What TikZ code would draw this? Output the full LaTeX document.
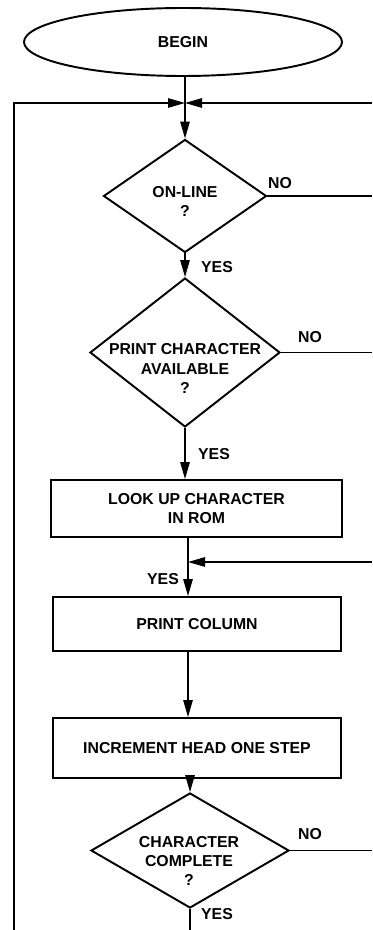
\documentclass[tikz,border=0pt]{standalone}
\usepackage{fontspec}
\setmainfont{Liberation Sans}
\usetikzlibrary{shapes,arrows.meta}

\tikzset{
  terminal/.style={draw, ellipse, line width=1.1pt, minimum width=6.36cm, minimum height=1.36cm},
  process/.style={draw, rectangle, line width=1.1pt, align=center},
  decision/.style={draw, diamond, line width=1.1pt, inner sep=0pt},
  txt/.style={align=center},
  flow/.style={line width=0.7pt},
}

\begin{document}
\begin{tikzpicture}[>={Triangle[length=3.4mm,width=1.9mm]},
    every node/.style={font=\fontsize{9}{11}\selectfont\bfseries}]
  \useasboundingbox (0,0) rectangle (7.44,-18.6);

  \node[terminal] (begin) at (3.66,-0.84) {BEGIN};
  \coordinate (merge) at (3.70,-2.06);
  \coordinate (leftlow) at (0.28,-18.6);
  \coordinate (righttop) at (7.44,-2.06);
  \coordinate (loopin) at (3.76,-11.24);
  \coordinate (rightmid) at (7.44,-11.24);

  \node[decision, minimum width=3.26cm, minimum height=2.26cm] (online) at (3.70,-3.92) {};
  \node[txt] (onlinetxt) at (3.70,-4.03) {ON-LINE\\?};
  \node[decision, minimum width=3.8cm, minimum height=2.98cm] (avail) at (3.70,-7.05) {};
  \node[txt] (availtxt) at (3.70,-7.37) {PRINT CHARACTER\\AVAILABLE\\?};
  \node[process, minimum width=5.82cm, minimum height=1.14cm] (lookup) at (3.93,-10.17) {LOOK UP CHARACTER\\IN ROM};
  \node[process, minimum width=5.76cm, minimum height=1.08cm] (printcol) at (3.94,-12.48) {PRINT COLUMN};
  \node[process, minimum width=5.76cm, minimum height=1.2cm] (incr) at (3.94,-14.96) {INCREMENT HEAD ONE STEP};
  \node[decision, minimum width=3.96cm, minimum height=2.3cm] (complete) at (3.80,-17.01) {};
  \node[txt] (completetxt) at (3.78,-17.22) {CHARACTER\\COMPLETE\\?};

  \node (no1) at (5.6,-3.66) {NO};
  \node (yes1) at (4.34,-5.34) {YES};
  \node (no2) at (6.2,-6.74) {NO};
  \node (yes2) at (4.28,-9.08) {YES};
  \node (yes3) at (3.26,-11.58) {YES};
  \node (no3) at (6.2,-16.68) {NO};
  \node (yes4) at (4.34,-18.28) {YES};

  \draw[flow,->] (begin.south -| merge) -- (online.north);
  \draw[flow,->] (leftlow) |- (merge);
  \draw[flow,->] (righttop) -- (merge);
  \draw[flow] (online.east) -- (online.east -| righttop);
  \draw[flow,->] (online.south) -- (avail.north);
  \draw[flow] (avail.east) -- (avail.east -| righttop);
  \draw[flow,->] (avail.south) -- (avail.south |- lookup.north);
  \draw[flow,->] (rightmid) -- (loopin);
  \draw[flow,->] (lookup.south -| loopin) -- (printcol.north -| loopin);
  \draw[flow,->] (printcol.south -| loopin) -- (incr.north -| loopin);
  \draw[flow,->] (incr.south -| complete) -- (complete.north);
  \draw[flow] (complete.east) -- (complete.east -| righttop);
  \draw[flow] (complete.south) -- (complete.south |- leftlow);
\end{tikzpicture}
\end{document}
